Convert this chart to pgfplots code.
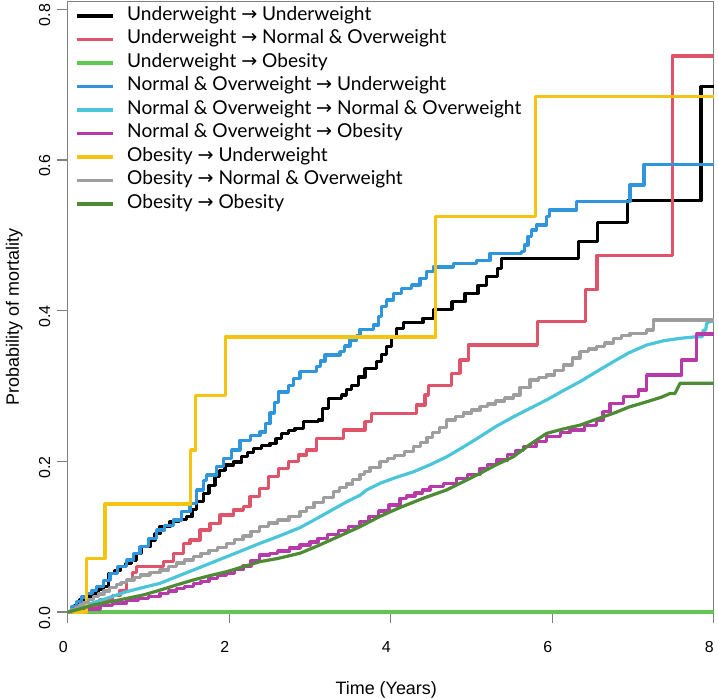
\documentclass[border=0pt]{standalone}
\usepackage{pgfplots}
\pgfplotsset{compat=1.18}
\usepackage{fontspec}
\setmainfont{Liberation Sans}
\newfontfamily\legfont{Lato}
\newfontfamily\arrfont{DejaVu Sans}
\newcommand{\ar}{{\arrfont →}}
\definecolor{axgray}{HTML}{808080}
\definecolor{cRed}{HTML}{DF536B}
\definecolor{cLgreen}{HTML}{61C84F}
\definecolor{cBlue}{HTML}{2F95DC}
\definecolor{cCyan}{HTML}{4AC6D8}
\definecolor{cMag}{HTML}{B83AAA}
\definecolor{cYel}{HTML}{F5C410}
\definecolor{cGray}{HTML}{9E9E9E}
\definecolor{cDgreen}{HTML}{4E8B35}
\begin{document}
\begin{tikzpicture}
\begin{axis}[
  scale only axis, width=646bp, height=610.7bp,
  xmin=0, xmax=8, ymin=0, ymax=0.8105,
  clip=false,
  axis line style={draw=axgray, line width=1.2bp},
  xtick={0,2,4,6,8}, ytick={0,0.2,0.4,0.6,0.8},
  tick align=outside, tick pos=left,
  major tick length=11bp,
  every tick/.style={draw=axgray, line width=1.2bp},
  /pgf/number format/assume math mode=true,
  ticklabel style={font=\fontsize{16}{19}\selectfont},
  yticklabel style={xshift=-3bp, yshift=-6bp, rotate=90, anchor=south, /pgf/number format/fixed, /pgf/number format/fixed zerofill, /pgf/number format/precision=1},
  xticklabel shift=15bp,
  xticklabel style={xshift=-4.5bp, anchor=north},
  every axis plot/.append style={line width=3.2bp, line join=round},
  legend cell align=left,
  legend image code/.code={\draw[#1, line width=3.2bp] (0bp,0bp) -- (36bp,0bp);},
  legend style={at={(rel axis cs:0,1)}, anchor=north west, xshift=7.3bp, yshift=-6bp,
    draw=none, fill=none, inner sep=0pt, outer sep=0pt, row sep=6.25bp,
    font=\legfont\fontsize{19.2}{22}\selectfont,
    nodes={inner sep=0pt, text height=13bp, text depth=4.25bp},
    /tikz/every odd column/.append style={column sep=13bp}},
]
\coordinate (bl) at (rel axis cs:0,0);
\coordinate (tr) at (rel axis cs:1,1);
\coordinate (xl) at (rel axis cs:0.5,0);
\coordinate (yl) at (rel axis cs:0,0.483);
% Underweight -> Underweight
\addplot[black, const plot] coordinates {(0,0) (0.08,0.008) (0.152,0.016) (0.25,0.02) (0.317,0.0248) (0.38,0.03) (0.441,0.0336) (0.503,0.0513) (0.58,0.055) (0.648,0.060) (0.72,0.064) (0.792,0.069) (0.85,0.078) (0.916,0.0867) (1.019,0.0955) (1.08,0.104) (1.143,0.1132) (1.267,0.1198) (1.38,0.123) (1.474,0.1265) (1.54,0.136) (1.597,0.1464) (1.68,0.1575) (1.75,0.168) (1.824,0.1796) (1.88,0.188) (1.948,0.195) (2.05,0.199) (2.155,0.206) (2.23,0.212) (2.30,0.217) (2.40,0.221) (2.505,0.224) (2.58,0.23) (2.65,0.237) (2.73,0.241) (2.815,0.244) (2.918,0.2526) (3.104,0.2548) (3.16,0.27) (3.227,0.2836) (3.393,0.288) (3.45,0.295) (3.517,0.301) (3.60,0.312) (3.682,0.323) (3.827,0.332) (3.89,0.342) (3.95,0.352) (4.01,0.364) (4.074,0.3765) (4.156,0.384) (4.40,0.390) (4.53,0.4017) (4.76,0.412) (4.92,0.423) (5.08,0.433) (5.19,0.445) (5.32,0.456) (5.37,0.4694) (6.33,0.4915) (6.563,0.517) (6.93,0.546) (7.843,0.697) (8,0.697)};
\addlegendentry{Underweight \ar{} Underweight}
% Underweight -> Normal & Overweight
\addplot[cRed, const plot] coordinates {(0,0) (0.2,0.008) (0.40,0.016) (0.55,0.022) (0.648,0.029) (0.73,0.042) (0.80,0.052) (0.854,0.060) (1.184,0.0668) (1.308,0.0779) (1.432,0.091) (1.515,0.0955) (1.638,0.1088) (1.762,0.1177) (1.886,0.1287) (2.05,0.1354) (2.175,0.14) (2.258,0.153) (2.38,0.164) (2.484,0.1796) (2.608,0.1907) (2.732,0.1995) (2.856,0.2084) (2.96,0.215) (3.084,0.2305) (3.413,0.2415) (3.682,0.2526) (3.765,0.2637) (4.32,0.2747) (4.425,0.288) (4.466,0.301) (4.755,0.3168) (4.858,0.3344) (4.96,0.3543) (5.816,0.3853) (6.41,0.428) (6.555,0.4735) (7.49,0.738) (8,0.738)};
\addlegendentry{Underweight \ar{} Normal \& Overweight}
% Underweight -> Obesity
\addplot[cLgreen] coordinates {(0,0) (8,0)};
\addlegendentry{Underweight \ar{} Obesity}
% Normal & Overweight -> Underweight
\addplot[cBlue, const plot] coordinates {(0,0) (0.05,0.007) (0.111,0.0137) (0.17,0.02) (0.235,0.0248) (0.30,0.029) (0.359,0.0336) (0.44,0.042) (0.524,0.0513) (0.62,0.06) (0.73,0.069) (0.81,0.078) (0.895,0.0867) (1.0,0.098) (1.102,0.1088) (1.2,0.115) (1.308,0.122) (1.41,0.133) (1.515,0.1443) (1.597,0.162) (1.68,0.175) (1.721,0.1818) (1.845,0.193) (1.927,0.204) (2.03,0.215) (2.134,0.228) (2.26,0.234) (2.381,0.239) (2.45,0.25) (2.505,0.264) (2.56,0.278) (2.608,0.292) (2.732,0.301) (2.80,0.31) (2.877,0.319) (3.084,0.3256) (3.13,0.333) (3.186,0.341) (3.372,0.3455) (3.43,0.353) (3.496,0.361) (3.579,0.367) (3.62,0.375) (3.785,0.381) (3.85,0.392) (3.89,0.405) (3.95,0.414) (4.03,0.423) (4.136,0.4296) (4.26,0.434) (4.363,0.443) (4.445,0.4517) (4.53,0.458) (4.776,0.4627) (5.065,0.467) (5.23,0.476) (5.62,0.478) (5.66,0.487) (5.70,0.498) (5.746,0.507) (5.808,0.5136) (5.93,0.5246) (5.965,0.5335) (6.30,0.5445) (6.963,0.5667) (7.137,0.594) (8,0.594)};
\addlegendentry{Normal \& Overweight \ar{} Underweight}
% Normal & Overweight -> Normal & Overweight
\addplot[cCyan] coordinates {(0,0) (0.1,0.004) (0.25,0.01) (0.45,0.017) (0.73,0.027) (0.95,0.033) (1.143,0.038) (1.35,0.047) (1.556,0.0557) (1.75,0.064) (1.969,0.0734) (2.17,0.082) (2.38,0.0911) (2.6,0.1) (2.877,0.112) (3.1,0.125) (3.3,0.137) (3.45,0.146) (3.62,0.155) (3.703,0.162) (3.867,0.1708) (4.05,0.178) (4.28,0.186) (4.5,0.196) (4.693,0.206) (4.9,0.219) (5.106,0.2327) (5.3,0.246) (5.518,0.259) (5.72,0.27) (5.93,0.2814) (6.14,0.294) (6.344,0.3057) (6.55,0.319) (6.757,0.3322) (6.95,0.344) (7.17,0.3543) (7.38,0.36) (7.583,0.3632) (7.79,0.3654) (7.86,0.3654) (7.87,0.374) (7.90,0.374) (7.913,0.383) (7.96,0.386) (8,0.386)};
\addlegendentry{Normal \& Overweight \ar{} Normal \& Overweight}
% Normal & Overweight -> Obesity
\addplot[cMag, const plot] coordinates {(0,0) (0.2,0.004) (0.4,0.009) (0.55,0.012) (0.73,0.016) (0.87,0.018) (1.0,0.021) (1.143,0.0248) (1.25,0.028) (1.35,0.031) (1.45,0.034) (1.556,0.038) (1.65,0.041) (1.75,0.044) (1.86,0.048) (1.969,0.0513) (2.07,0.056) (2.17,0.061) (2.27,0.068) (2.38,0.0756) (2.5,0.078) (2.6,0.081) (2.75,0.085) (2.877,0.089) (3.0,0.093) (3.1,0.098) (3.22,0.103) (3.35,0.108) (3.48,0.114) (3.62,0.1198) (3.73,0.127) (3.85,0.134) (3.98,0.142) (4.115,0.151) (4.2,0.154) (4.3,0.158) (4.39,0.162) (4.487,0.1663) (4.65,0.171) (4.817,0.1774) (4.95,0.183) (5.106,0.1907) (5.2,0.196) (5.313,0.2017) (5.45,0.209) (5.55,0.214) (5.642,0.2194) (5.8,0.226) (5.93,0.2327) (6.1,0.238) (6.22,0.2415) (6.4,0.248) (6.55,0.2548) (6.63,0.266) (6.716,0.277) (6.88,0.2857) (7.066,0.2946) (7.17,0.3145) (7.604,0.3344) (7.79,0.369) (8,0.369)};
\addlegendentry{Normal \& Overweight \ar{} Obesity}
% Obesity -> Underweight
\addplot[cYel, const plot] coordinates {(0,0) (0.235,0.0713) (0.462,0.1433) (1.523,0.215) (1.585,0.287) (1.957,0.365) (4.557,0.525) (5.795,0.684) (8,0.684)};
\addlegendentry{Obesity \ar{} Underweight}
% Obesity -> Normal & Overweight
\addplot[cGray, const plot] coordinates {(0,0) (0.05,0.003) (0.1,0.006) (0.15,0.0095) (0.2,0.013) (0.26,0.017) (0.317,0.0203) (0.38,0.024) (0.45,0.028) (0.52,0.032) (0.6,0.036) (0.66,0.039) (0.73,0.0425) (0.82,0.046) (0.9,0.049) (1.02,0.052) (1.143,0.0557) (1.25,0.060) (1.35,0.065) (1.45,0.069) (1.556,0.0734) (1.65,0.078) (1.75,0.082) (1.86,0.086) (1.969,0.0911) (2.07,0.096) (2.17,0.101) (2.27,0.107) (2.38,0.1132) (2.49,0.118) (2.6,0.122) (2.74,0.127) (2.877,0.133) (2.96,0.139) (3.05,0.145) (3.17,0.152) (3.29,0.16) (3.37,0.165) (3.45,0.17) (3.53,0.176) (3.62,0.182) (3.68,0.187) (3.744,0.192) (3.867,0.1995) (3.96,0.204) (4.05,0.208) (4.17,0.213) (4.28,0.2194) (4.37,0.225) (4.45,0.232) (4.52,0.238) (4.6,0.245) (4.693,0.2548) (4.8,0.259) (4.9,0.264) (5.0,0.268) (5.106,0.2725) (5.2,0.276) (5.3,0.28) (5.41,0.284) (5.518,0.288) (5.6,0.298) (5.725,0.308) (5.83,0.311) (5.93,0.3145) (6.03,0.321) (6.138,0.3278) (6.25,0.337) (6.344,0.3455) (6.45,0.349) (6.55,0.352) (6.65,0.357) (6.757,0.3632) (6.86,0.367) (6.963,0.37) (7.17,0.3743) (7.252,0.3875) (8,0.3875)};
\addlegendentry{Obesity \ar{} Normal \& Overweight}
% Obesity -> Obesity
\addplot[cDgreen] coordinates {(0,0) (0.15,0.004) (0.317,0.0093) (0.5,0.013) (0.73,0.018) (0.95,0.023) (1.143,0.029) (1.35,0.036) (1.556,0.0425) (1.75,0.048) (1.969,0.0535) (2.17,0.06) (2.38,0.0668) (2.6,0.071) (2.877,0.078) (3.1,0.088) (3.35,0.1) (3.62,0.1132) (3.85,0.126) (4.1,0.138) (4.404,0.151) (4.693,0.162) (4.9,0.173) (5.106,0.184) (5.3,0.195) (5.518,0.206) (5.72,0.222) (5.93,0.237) (6.14,0.243) (6.344,0.248) (6.55,0.256) (6.757,0.2637) (6.95,0.272) (7.17,0.279) (7.35,0.285) (7.459,0.29) (7.52,0.29) (7.583,0.3035) (8,0.3035)};
\addlegendentry{Obesity \ar{} Obesity}
\end{axis}
\node[anchor=base, font=\fontsize{18}{21}\selectfont] at ([shift={(-4.5bp,-82bp)}]xl) {Time (Years)};
\node[rotate=90, anchor=base, font=\fontsize{18}{21}\selectfont] at ([shift={(-48.7bp,0bp)}]yl) {Probability of mortality};
\pgfresetboundingbox
\path[use as bounding box] ([shift={(-67.7bp,-86bp)}]bl) rectangle ([shift={(4.3bp,1.3bp)}]tr);
\end{tikzpicture}
\end{document}
